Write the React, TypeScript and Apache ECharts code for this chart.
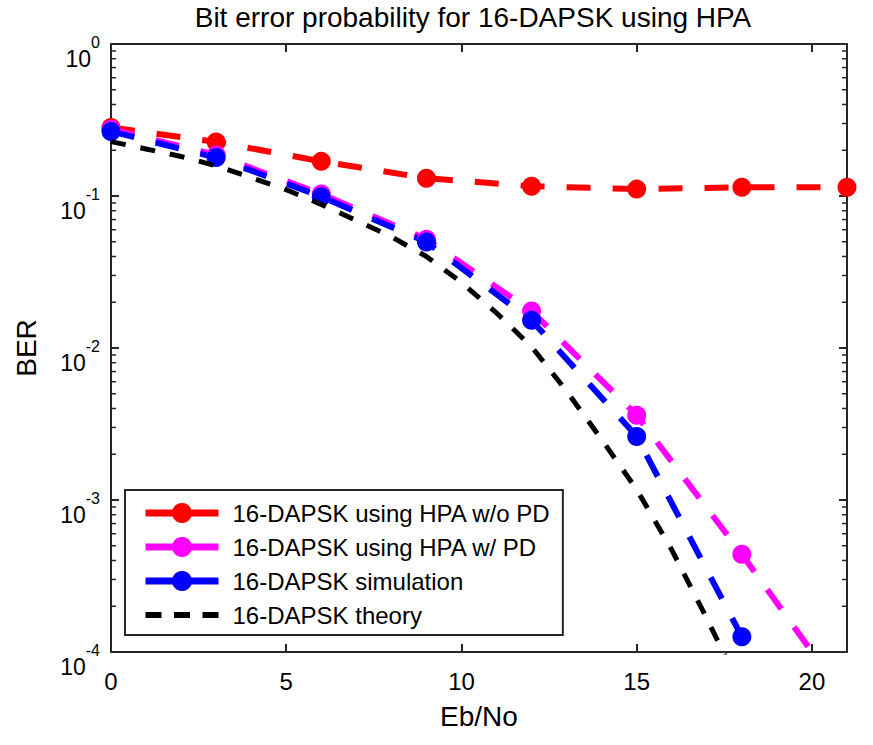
import React, { useEffect, useRef } from "react";
import * as echarts from "echarts";

const ebno = [0, 3, 6, 9, 12, 15, 18, 21];
const berNoPD = [0.282, 0.227, 0.169, 0.131, 0.116, 0.111, 0.114, 0.114];
const berPD = [0.275, 0.186, 0.103, 0.052, 0.0175, 0.00361, 0.00044, 0.000048];
const simX = [0, 3, 6, 9, 12, 15, 18];
const berSim = [0.266, 0.179, 0.099, 0.0498, 0.0152, 0.00262, 0.000126];
const theoryX = [0, 1, 2, 3, 4, 5, 6, 7, 8, 9, 10, 11, 12, 13, 14, 15, 16, 17, 18];
const berTheory = [
  0.228, 0.204, 0.182, 0.158, 0.132, 0.11, 0.088, 0.069, 0.054, 0.04, 0.027,
  0.017, 0.0102, 0.0052, 0.0025, 0.00117, 0.00047, 0.000166, 0.000056,
];
const xTickLabels = ["0", "5", "10", "15", "20"];
const minorTickValues = [1e-4, 1e-3, 1e-2, 1e-1].flatMap((d) =>
  [2, 3, 4, 5, 6, 7, 8, 9].map((m) => m * d)
);
const seriesNames = [
  "16-DAPSK using HPA w/o PD",
  "16-DAPSK using HPA w/ PD",
  "16-DAPSK simulation",
  "16-DAPSK theory",
];
const seriesColors = ["#ff0000", "#ff00ff", "#0000ff", "#000000"];

const FONT = "'Liberation Sans', Arial, Helvetica, sans-serif";
const AX = "#262626";

function zip(xs: number[], ys: number[]) {
  return xs.map((x, i) => [x, ys[i]]);
}

export default function App() {
  const ref = useRef<HTMLDivElement>(null);
  useEffect(() => {
    if (!ref.current) return;
    const chart = echarts.init(ref.current, undefined, { renderer: "svg" });
    const markerLine = (idx: number, data: number[][]) => ({
      name: seriesNames[idx],
      type: "line",
      data,
      symbol: "circle",
      symbolSize: 19,
      showSymbol: true,
      itemStyle: { color: seriesColors[idx] },
      lineStyle: { color: seriesColors[idx], width: 6, type: [24, 22] },
      z: 3,
    });
    chart.setOption({
      animation: false,
      backgroundColor: "#ffffff",
      textStyle: { fontFamily: FONT },
      title: {
        text: "Bit error probability for 16-DAPSK using HPA",
        left: 473,
        top: 3,
        textAlign: "center",
        padding: 0,
        textStyle: { fontFamily: FONT, fontSize: 28, fontWeight: "normal", color: "#000" },
      },
      grid: { left: 111, right: 26, top: 44, bottom: 93, containLabel: false },
      legend: {
        orient: "vertical",
        left: 125,
        top: 490,
        padding: [11, 12, 8, 17],
        itemGap: 10,
        itemWidth: 73,
        itemHeight: 25,
        backgroundColor: "#ffffff",
        borderColor: AX,
        borderWidth: 2,
        borderRadius: 0,
        textStyle: { fontFamily: FONT, fontSize: 24, color: "#000", padding: [0, 0, 0, 9] },
        data: seriesNames.map((name, i) =>
          i < 3
            ? {
                name,
                lineStyle: { color: seriesColors[i], width: 7, type: "solid" },
              }
            : {
                name,
                itemStyle: { color: "rgba(0,0,0,0)", borderWidth: 0, opacity: 0 },
                lineStyle: { color: "#000", width: 6, type: [16, 12.5], opacity: 1 },
              }
        ),
      },
      xAxis: [
        {
          type: "value",
          min: 0,
          max: 21,
          interval: 5,
          name: "Eb/No",
          nameLocation: "middle",
          nameGap: 50,
          nameTextStyle: { fontFamily: FONT, fontSize: 28, color: "#000" },
          axisLine: { show: true, lineStyle: { color: AX, width: 2 } },
          axisTick: { show: true, inside: true, length: 8, lineStyle: { color: AX, width: 2 } },
          axisLabel: {
            fontFamily: FONT,
            fontSize: 24,
            color: "#000",
            margin: 17,
            showMaxLabel: false,
            formatter: (v: number) => {
              const s = String(Math.round(v));
              return xTickLabels.includes(s) && v % 5 === 0 ? s : "";
            },
          },
          splitLine: { show: false },
        },
        {
          type: "value",
          min: 0,
          max: 21,
          interval: 5,
          position: "top",
          axisLine: { show: true, onZero: false, lineStyle: { color: AX, width: 2 } },
          axisTick: { show: true, inside: true, length: 8, lineStyle: { color: AX, width: 2 } },
          axisLabel: { show: false },
          splitLine: { show: false },
        },
      ],
      yAxis: [
        {
          type: "log",
          logBase: 10,
          min: 1e-4,
          max: 1,
          name: "BER",
          nameLocation: "middle",
          nameGap: 71,
          nameTextStyle: { fontFamily: FONT, fontSize: 28, color: "#000" },
          axisLine: { show: true, onZero: false, lineStyle: { color: AX, width: 2 } },
          axisTick: { show: true, inside: true, length: 8, lineStyle: { color: AX, width: 2 } },
          axisLabel: {
            margin: 11,
            color: "#000",
            padding: [16, 0, 0, 0],
            formatter: (v: number) => `{b|10}{s|${Math.round(Math.log10(v))}}`,
            rich: {
              b: { fontFamily: FONT, fontSize: 23, lineHeight: 36, verticalAlign: "bottom", color: "#000" },
              s: { fontFamily: FONT, fontSize: 16, lineHeight: 14, verticalAlign: "top", color: "#000" },
            },
          },
          splitLine: { show: false },
        },
        {
          type: "log",
          logBase: 10,
          min: 1e-4,
          max: 1,
          position: "right",
          axisLine: { show: true, onZero: false, lineStyle: { color: AX, width: 2 } },
          axisTick: { show: true, inside: true, length: 8, lineStyle: { color: AX, width: 2 } },
          axisLabel: { show: false },
          splitLine: { show: false },
        },
      ],
      series: [
        markerLine(0, zip(ebno, berNoPD)),
        markerLine(1, zip(ebno, berPD)),
        markerLine(2, zip(simX, berSim)),
        {
          name: seriesNames[3],
          type: "line",
          data: zip(theoryX, berTheory),
          showSymbol: false,
          symbol: "none",
          itemStyle: { color: "#000000" },
          lineStyle: { color: "#000000", width: 5, type: [15, 15] },
          z: 4,
        },
        {
          type: "custom",
          silent: true,
          clip: false,
          data: minorTickValues.map((v) => [0, v]),
          encode: { x: 0, y: 1 },
          renderItem: (params: any, api: any) => {
            const cs = params.coordSys;
            const y = api.coord([0, api.value(1)])[1];
            const style = { stroke: AX, lineWidth: 1.5 };
            return {
              type: "group",
              children: [
                { type: "line", shape: { x1: cs.x, y1: y, x2: cs.x + 5, y2: y }, style },
                { type: "line", shape: { x1: cs.x + cs.width - 5, y1: y, x2: cs.x + cs.width, y2: y }, style },
              ],
            };
          },
          z: 1,
        },
      ],
    });
    return () => chart.dispose();
  }, []);
  return (
    <div
      ref={ref}
      style={{ position: "fixed", left: 0, top: 0, width: 873, height: 745, background: "#fff" }}
    />
  );
}
